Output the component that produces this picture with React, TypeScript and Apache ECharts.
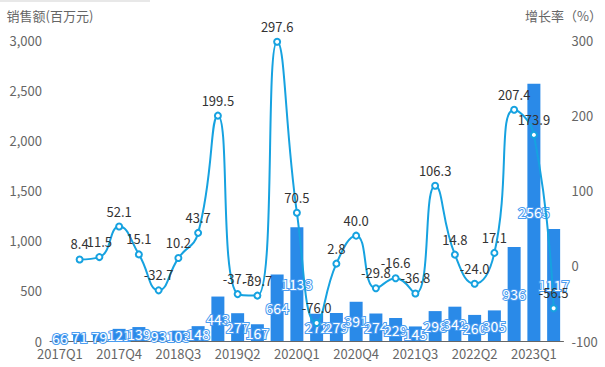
import React, { useEffect, useRef } from "react";
import * as echarts from "echarts";

const categories = [
  "2017Q1","2017Q2","2017Q3","2017Q4","2018Q1","2018Q2","2018Q3","2018Q4",
  "2019Q1","2019Q2","2019Q3","2019Q4","2020Q1","2020Q2","2020Q3","2020Q4",
  "2021Q1","2021Q2","2021Q3","2021Q4","2022Q1","2022Q2","2022Q3","2022Q4",
  "2023Q1","2023Q2",
];
const sales = [66,71,79,121,139,93,103,148,443,277,167,664,1133,272,279,391,274,229,145,298,342,260,305,936,2565,1117];
const growth: (number | null)[] = [null,8.4,11.5,52.1,15.1,-32.7,10.2,43.7,199.5,-37.7,-39.7,297.6,70.5,-76.0,2.8,40.0,-29.8,-16.6,-36.8,106.3,14.8,-24.0,17.1,207.4,173.9,-56.5];

const FONT = '"Microsoft YaHei", "Noto Sans CJK SC", sans-serif';

export default function App() {
  const ref = useRef<HTMLDivElement>(null);
  useEffect(() => {
    if (!ref.current) return;
    const chart = echarts.init(ref.current, null, { renderer: "svg" });
    chart.setOption({
      animation: false,
      textStyle: { fontFamily: FONT },
      graphic: [
        { type: "rect", left: 0, top: 0, shape: { width: 150, height: 2 }, style: { fill: "#e8e8e8" } },
      ],
      grid: { left: 50, right: 41, top: 40, bottom: 26 },
      xAxis: {
        type: "category",
        data: categories,
        axisLine: { lineStyle: { color: "#666" } },
        axisTick: { interval: 2, lineStyle: { color: "#666" } },
        axisLabel: { interval: 2, color: "#666", fontSize: 13, fontFamily: FONT, margin: 6 },
      },
      yAxis: [
        {
          type: "value",
          name: "销售额(百万元)",
          nameGap: 18,
          nameTextStyle: { color: "#666", fontSize: 13, fontFamily: FONT },
          min: 0,
          max: 3000,
          interval: 500,
          axisLine: { show: false },
          axisTick: { show: false },
          splitLine: { show: false },
          axisLabel: {
            color: "#666",
            fontSize: 13,
            fontFamily: FONT,
            formatter: (v: number) => v.toLocaleString("en-US"),
          },
        },
        {
          type: "value",
          name: "增长率（%）",
          nameGap: 18,
          nameTextStyle: { color: "#666", fontSize: 13, fontFamily: FONT },
          min: -100,
          max: 300,
          interval: 100,
          axisLine: { show: false },
          axisTick: { show: false },
          splitLine: { show: false },
          axisLabel: { color: "#666", fontSize: 13, fontFamily: FONT },
        },
      ],
      series: [
        {
          type: "bar",
          data: sales,
          barWidth: 13,
          itemStyle: { color: "#2a8ae8" },
          label: {
            show: true,
            position: "inside",
            color: "#fff",
            fontSize: 14,
            fontFamily: FONT,
            textBorderColor: "#4a9cf0",
            textBorderWidth: 2,
          },
        },
        {
          type: "line",
          yAxisIndex: 1,
          data: growth,
          smooth: true,
          symbol: "emptyCircle",
          symbolSize: 6,
          lineStyle: { color: "#16a2e0", width: 2 },
          itemStyle: { color: "#16a2e0", borderWidth: 1.5 },
          label: {
            show: true,
            position: "top",
            color: "#333",
            fontSize: 13,
            fontFamily: FONT,
            formatter: (p: any) => Number(p.value).toFixed(1),
          },
        },
      ],
    });
    return () => chart.dispose();
  }, []);
  return (
    <div
      ref={ref}
      style={{ position: "absolute", left: 0, top: 0, width: 605, height: 367 }}
    />
  );
}
